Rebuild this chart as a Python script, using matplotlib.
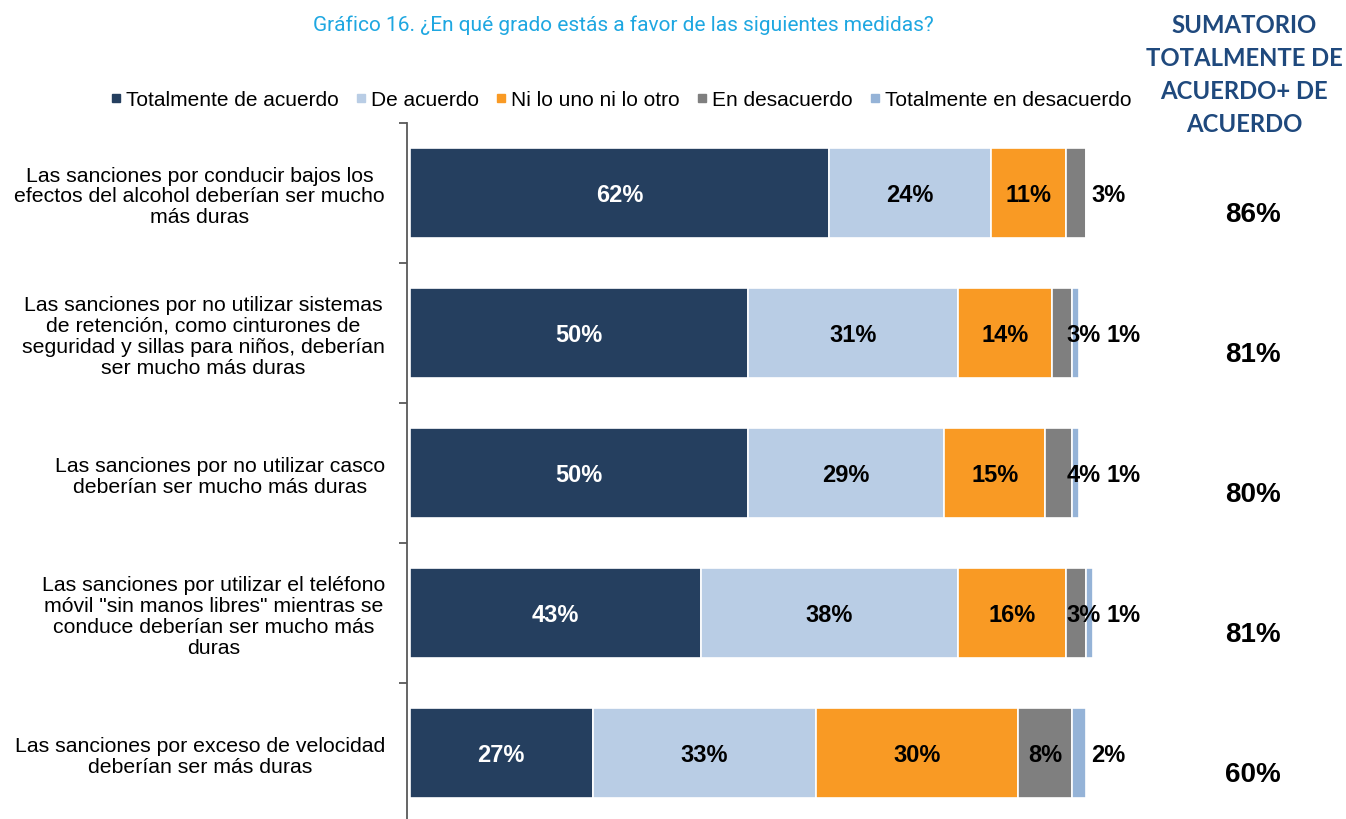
import matplotlib
matplotlib.use("Agg")
import matplotlib.pyplot as plt
from matplotlib.lines import Line2D
import numpy as np

# data
categorias = [
    "Las sanciones por conducir bajos los\nefectos del alcohol deberían ser mucho\nmás duras",
    "Las sanciones por no utilizar sistemas\nde retención, como cinturones de\nseguridad y sillas para niños, deberían\nser mucho más duras",
    "Las sanciones por no utilizar casco\ndeberían ser mucho más duras",
    "Las sanciones por utilizar el teléfono\nmóvil \"sin manos libres\" mientras se\nconduce deberían ser mucho más\nduras",
    "Las sanciones por exceso de velocidad\ndeberían ser más duras",
]
series = ["Totalmente de acuerdo", "De acuerdo", "Ni lo uno ni lo otro",
          "En desacuerdo", "Totalmente en desacuerdo"]
totalmente_acuerdo = [62, 50, 50, 43, 27]
de_acuerdo = [24, 31, 29, 38, 33]
ni_uno_ni_otro = [11, 14, 15, 16, 30]
en_desacuerdo = [3, 3, 4, 3, 8]
totalmente_desacuerdo = [0, 1, 1, 1, 2]
sumatorio = [86, 81, 80, 81, 60]

colores = ["#253F5F", "#B9CDE5", "#F99A24", "#7F7F7F", "#95B3D7"]
color_texto = ["white", "black", "black", "black", "black"]

valores = [totalmente_acuerdo, de_acuerdo, ni_uno_ni_otro, en_desacuerdo, totalmente_desacuerdo]

W, H = 1346, 820
fig = plt.figure(figsize=(W / 100, H / 100), dpi=100)
plt.rcParams['font.family'] = ['Liberation Sans', 'DejaVu Sans']

ax_left, ax_top, ax_right, ax_bot = 410, 124, 1086, 824
ax = fig.add_axes([ax_left / W, 1 - ax_bot / H, (ax_right - ax_left) / W, (ax_bot - ax_top) / H])

y = np.arange(len(categorias))
izq = np.zeros(len(categorias))
for i, (nombre, vals) in enumerate(zip(series, valores)):
    vals = np.array(vals, dtype=float)
    barras = ax.barh(y, vals, left=izq, height=0.645, color=colores[i], edgecolor="white",
                     linewidth=1.2, label=nombre)
    for b in barras:
        b.set_clip_on(False)
    for j, v in enumerate(vals):
        if v <= 0:
            continue
        if v >= 5:
            xt = izq[j] + v / 2
        else:
            ultimo = all(valores[k][j] == 0 for k in range(i + 1, len(valores)))
            previo_chico = valores[i - 1][j] < 5
            if ultimo:
                xt = 105.5 if previo_chico else 103.3
            else:
                xt = 99.6
        ax.text(xt, j + 0.01, f"{int(v)}%", ha="center", va="center", fontsize=17,
                fontweight="bold", color=color_texto[i] if v >= 5 else "black", clip_on=False)
    izq += vals

ax.set_xlim(0, 100)
ax.set_ylim(len(categorias) - 0.5, -0.5)
ax.set_xticks([])
for s in ["top", "right", "bottom"]:
    ax.spines[s].set_visible(False)
ax.spines["left"].set_color("#595959")
ax.spines["left"].set_linewidth(1.3)
ax.spines["left"].set_position(("outward", 2))

ax.set_yticks(y)
ax.set_yticklabels(categorias, fontsize=15.3, multialignment="center", linespacing=1.12)
ax.tick_params(axis="y", which="major", length=0, pad=16)
ax.set_yticks(np.arange(-0.5, len(categorias)), minor=True)
ax.tick_params(axis="y", which="minor", length=6, width=1.3, color="#595959")

# sumatorio column
for j, s in enumerate(sumatorio):
    ax.text(124.7, j + 0.15, f"{s}%", ha="center", va="center", fontsize=20,
            fontweight="bold", clip_on=False)

fig.text(1244 / W, 1 - 75 / H, "SUMATORIO\nTOTALMENTE DE\nACUERDO+ DE\nACUERDO", ha="center",
         va="center", fontsize=17.2, fontweight="bold", color="#1F497D",
         family=["Lato", "DejaVu Sans"], linespacing=1.52)

fig.text(623 / W, 1 - 25 / H, "Gráfico 16. ¿En qué grado estás a favor de las siguientes medidas?",
         ha="center", va="center", fontsize=15, color="#1EA7E1", family=["Roboto", "DejaVu Sans"])

handles = [Line2D([], [], marker="s", linestyle="none", markersize=6, color=c) for c in colores]
fig.legend(handles, series, loc="center", bbox_to_anchor=(620 / W, 1 - 101 / H), ncol=5,
           frameon=False, fontsize=15, handletextpad=0.1, columnspacing=0.75, handlelength=0.7)

fig.savefig("out.png", dpi=100)
